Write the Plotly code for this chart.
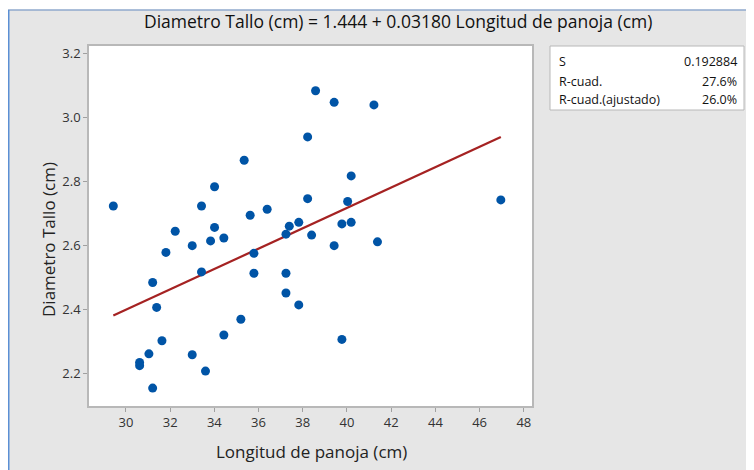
import plotly.graph_objects as go

# ---- data ----
longitud = [29.43, 30.62, 30.62, 31.04, 31.21, 31.21, 31.39, 31.63, 31.81, 32.23,
            33.0, 33.0, 33.42, 33.42, 33.6, 33.83, 34.01, 34.01, 34.43, 34.43,
            35.2, 35.35, 35.62, 35.79, 35.79, 36.39, 37.24, 37.24, 37.24, 37.39,
            37.82, 37.82, 38.22, 38.22, 38.40, 38.58, 39.42, 39.42, 39.77, 39.77,
            40.03, 40.19, 40.19, 41.22, 41.38, 46.96]
diametro = [2.722, 2.233, 2.223, 2.260, 2.483, 2.153, 2.405, 2.301, 2.577, 2.643,
            2.598, 2.257, 2.722, 2.516, 2.206, 2.613, 2.782, 2.655, 2.622, 2.319,
            2.368, 2.865, 2.693, 2.574, 2.512, 2.712, 2.634, 2.512, 2.450, 2.659,
            2.671, 2.413, 2.938, 2.745, 2.631, 3.082, 3.046, 2.598, 2.666, 2.305,
            2.736, 2.816, 2.671, 3.038, 2.610, 2.741]
intercepto = 1.444
pendiente = 0.03180
x_ticks = [30, 32, 34, 36, 38, 40, 42, 44, 46, 48]
y_ticks = [2.2, 2.4, 2.6, 2.8, 3.0, 3.2]
stat_names = ["S", "R-cuad.", "R-cuad.(ajustado)"]
stat_values = ["0.192884", "27.6%", "26.0%"]
title_text = "Diametro Tallo (cm) = 1.444 + 0.03180 Longitud de panoja (cm)"
x_title = "Longitud de panoja (cm)"
y_title = "Diametro Tallo (cm)"

FONT = "Open Sans"
OFF = 8  # page body margin
W, H = 754 - OFF, 470 - OFF
# plot area in window pixels: left 89, right 532, top 46, bottom 406
L, R, T, B = 89 - OFF, W - (532 - OFF), 46 - OFF, H - (406 - OFF)
pw, ph = W - L - R, H - T - B

def px_x(p):
    return (p - OFF - L) / pw

def px_y(p):
    return (H - B - (p - OFF)) / ph

xmin, xmax = min(longitud), max(longitud)
line_x = [xmin, xmax]
line_y = [intercepto + pendiente * v for v in line_x]

fig = go.Figure()
fig.add_trace(go.Scatter(x=line_x, y=line_y, mode="lines",
                         line=dict(color="#a52222", width=2.2),
                         hoverinfo="skip", showlegend=False))
fig.add_trace(go.Scatter(x=longitud, y=diametro, mode="markers",
                         marker=dict(color="#0054a6", size=9, line=dict(width=0)),
                         showlegend=False))

axis_common = dict(showline=True, mirror=True, linecolor="#b8b8b8", linewidth=1.5,
                   showgrid=False, zeroline=False, ticks="outside", ticklen=4,
                   tickcolor="#a0a0a0", tickwidth=1,
                   tickfont=dict(family=FONT, size=13, color="#333333"))

fig.update_xaxes(range=[28.33, 48.37], tickvals=x_ticks,
                 ticktext=[str(v) for v in x_ticks], **axis_common)
fig.update_yaxes(range=[2.097, 3.222], tickvals=y_ticks,
                 ticktext=["%.1f" % v for v in y_ticks], **axis_common)

shapes = [
    # white strip at top (above the screenshot frame)
    dict(type="rect", xref="paper", yref="paper", x0=px_x(0), x1=px_x(760),
         y0=px_y(10), y1=px_y(0), fillcolor="white", line=dict(width=0)),
    dict(type="line", xref="paper", yref="paper", x0=px_x(8), x1=px_x(760),
         y0=px_y(10), y1=px_y(10), line=dict(color="#8fa9cc", width=1.5)),
    dict(type="line", xref="paper", yref="paper", x0=px_x(8.5), x1=px_x(8.5),
         y0=px_y(10), y1=px_y(480), line=dict(color="#5b8fd4", width=2)),
    # stats box
    dict(type="rect", xref="paper", yref="paper", x0=px_x(550), x1=px_x(744),
         y0=px_y(110), y1=px_y(46), fillcolor="white",
         line=dict(color="#b8b8b8", width=1)),
]

annotations = []
row_y = [62, 81, 99]
for name, val, ry in zip(stat_names, stat_values, row_y):
    annotations.append(dict(xref="paper", yref="paper", x=px_x(557), y=px_y(ry),
                            xanchor="left", yanchor="middle", showarrow=False,
                            text=name, font=dict(family=FONT, size=12.5, color="#111111")))
    annotations.append(dict(xref="paper", yref="paper", x=px_x(739), y=px_y(ry),
                            xanchor="right", yanchor="middle", showarrow=False,
                            text=val, font=dict(family=FONT, size=12.5, color="#111111")))

annotations.append(dict(xref="paper", yref="paper", x=px_x(311), y=px_y(451),
                        xanchor="center", yanchor="middle", showarrow=False,
                        text=x_title, font=dict(family=FONT, size=17, color="#222222")))
annotations.append(dict(xref="paper", yref="paper", x=px_x(48), y=px_y(240),
                        xanchor="center", yanchor="middle", showarrow=False, textangle=-90,
                        text=y_title, font=dict(family=FONT, size=17, color="#222222")))
annotations.append(dict(xref="paper", yref="paper", x=px_x(398), y=px_y(21),
                        xanchor="center", yanchor="middle", showarrow=False,
                        text=title_text, font=dict(family=FONT, size=17.5, color="#111111")))

fig.update_layout(width=W, height=H, margin=dict(l=L, r=R, t=T, b=B),
                  paper_bgcolor="#e6e6e6", plot_bgcolor="white",
                  shapes=shapes, annotations=annotations, showlegend=False)

fig.write_html("out.html")
